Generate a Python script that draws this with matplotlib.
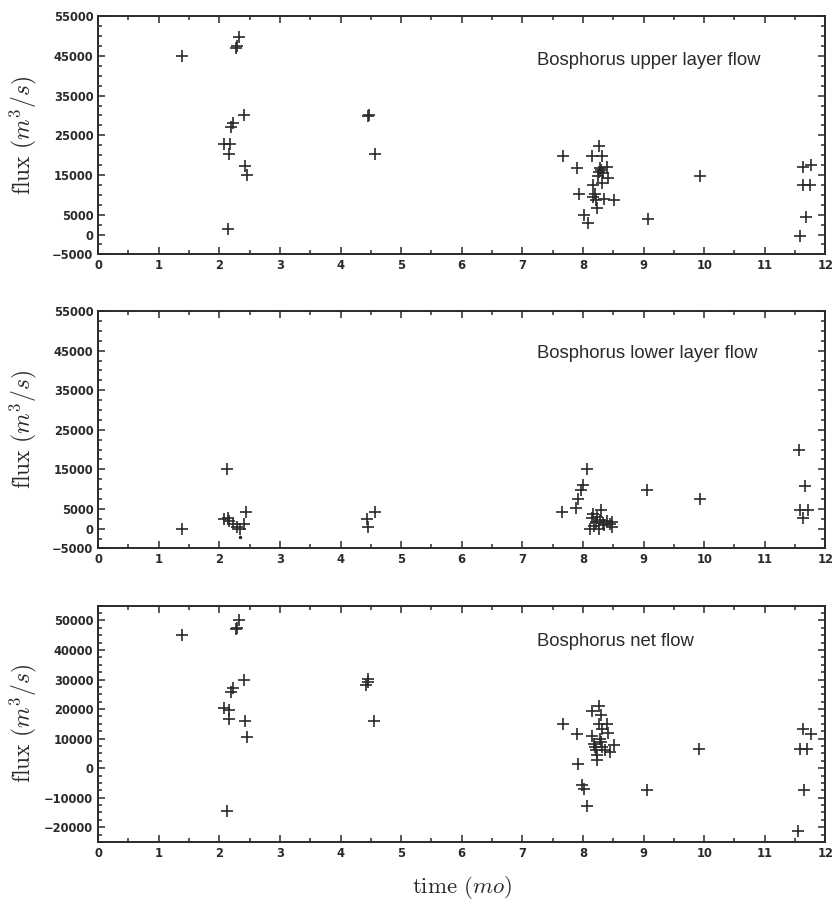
import matplotlib
matplotlib.use("Agg")
import matplotlib.pyplot as plt
from matplotlib.ticker import FixedLocator, MultipleLocator

# Bosphorus fluxes (m^3/s) against time of year (months)
upper_t = [1.39, 2.33, 2.28, 2.29, 2.40, 2.23, 2.19, 2.08, 2.18, 2.16, 2.43, 2.46, 2.15,
           4.46, 4.47, 4.57,
           7.67, 7.90, 8.27, 8.15, 8.32, 8.28, 8.40, 8.27, 8.33, 8.42, 8.32, 8.17, 7.94,
           8.20, 8.17, 8.35, 8.51, 8.24, 8.02, 8.09, 8.30, 8.25, 8.22,
           9.08, 9.93, 11.63, 11.77, 11.63, 11.75, 11.68, 11.58]
upper_q = [45000, 49700, 47000, 47500, 30000, 28000, 27000, 22700, 22700, 20200, 17200, 14900, 1300,
           29800, 30200, 20200,
           19700, 16700, 22300, 19700, 19700, 16700, 17000, 15700, 15400, 14200, 12900, 12600, 10100,
           10100, 9400, 8900, 8600, 6600, 4800, 2800, 16200, 14800, 8800,
           3800, 14700, 17000, 17400, 12600, 12600, 4400, -400]

lower_t = [1.39, 2.13, 2.08, 2.15, 2.16, 2.23, 2.29, 2.34, 2.41, 2.44,
           4.43, 4.46, 4.57,
           7.66, 7.89, 7.92, 7.97, 8.00, 8.07, 8.30, 8.17, 8.15, 8.22, 8.28, 8.33, 8.39,
           8.45, 8.48, 8.19, 8.12, 8.27, 8.35, 8.48, 8.24,
           9.06, 9.93, 11.56, 11.67, 11.58, 11.72, 11.63]
lower_q = [0, 15000, 2400, 2800, 2000, 1300, 400, 0, 1200, 4300,
           2400, 300, 4300,
           4100, 5100, 7400, 9900, 11000, 15000, 4600, 3600, 2600, 1700, 2300, 1500, 2000,
           1200, 400, 600, 0, 0, 900, 1800, 3000,
           9900, 7400, 19800, 10700, 4600, 4600, 2600]
# lone small dot below the February cluster
lower_dot_t = [2.34]
lower_dot_q = [-2200]

net_t = [1.39, 2.33, 2.28, 2.29, 2.40, 2.23, 2.19, 2.08, 2.16, 2.16, 2.43, 2.46, 2.12,
         4.45, 4.42, 4.46, 4.55,
         8.26, 8.15, 8.30, 7.67, 8.26, 8.40, 8.32, 8.42, 7.90, 8.15, 8.28, 8.18, 8.51,
         8.32, 8.21, 8.45, 8.23, 8.24, 7.92, 7.99, 8.02, 8.06, 8.30, 8.20, 8.36,
         9.06, 9.92, 11.63, 11.77, 11.58, 11.70, 11.65, 11.55]
net_q = [45000, 50000, 47000, 47500, 30000, 27000, 25900, 20300, 19800, 16800, 15800, 10700, -14400,
         29300, 28000, 30300, 15800,
         21200, 19200, 18100, 15100, 15100, 15100, 13400, 12000, 11400, 11000, 10000, 8300, 8000,
         7300, 6300, 5600, 4600, 2900, 1500, -5600, -6900, -12700, 9000, 7000, 6000,
         -7300, 6600, 13400, 11700, 6600, 6600, -7300, -21200]

x_ticks = list(range(13))
upper_yticks = [-5000, 0, 5000, 15000, 25000, 35000, 45000, 55000]
net_yticks = [-20000, -10000, 0, 10000, 20000, 30000, 40000, 50000]

panels = [
    (upper_t, upper_q, "Bosphorus upper layer flow", upper_yticks, (-5000, 55000)),
    (lower_t, lower_q, "Bosphorus lower layer flow", upper_yticks, (-5000, 55000)),
    (net_t, net_q, "Bosphorus net flow", net_yticks, (-25000, 55000)),
]
rects = [
    [0.118, 0.718, 0.874, 0.264],
    [0.118, 0.392, 0.874, 0.263],
    [0.118, 0.0665, 0.874, 0.262],
]
title_y = [0.815, 0.82, 0.847]

plt.rcParams["mathtext.fontset"] = "cm"
ink = "#2a2a2a"

fig = plt.figure(figsize=(8.32, 9.02), dpi=100)
for k, ((t, q, name, yt, ylim), rect) in enumerate(zip(panels, rects)):
    ax = fig.add_axes(rect)
    ax.plot(t, q, ls="none", marker="+", ms=8, mew=1.2, color=ink)
    if k == 1:
        ax.plot(lower_dot_t, lower_dot_q, ls="none", marker=".", ms=3, color=ink)
    ax.set_xlim(0, 12)
    ax.set_ylim(*ylim)
    ax.xaxis.set_major_locator(FixedLocator(x_ticks))
    ax.xaxis.set_minor_locator(MultipleLocator(0.5))
    ax.yaxis.set_major_locator(FixedLocator(yt))
    ax.yaxis.set_minor_locator(MultipleLocator(2500))
    ax.tick_params(which="both", direction="in", top=True, right=True,
                   color=ink, labelcolor=ink, labelsize=8.3, width=1.1)
    ax.tick_params(which="major", length=5)
    ax.tick_params(which="minor", length=3)
    for lab in ax.get_xticklabels() + ax.get_yticklabels():
        lab.set_fontweight("bold")
    for s in ax.spines.values():
        s.set_color(ink)
        s.set_linewidth(1.4)
    ax.text(0.603, title_y[k], name, transform=ax.transAxes, fontsize=13.3,
            family="Liberation Sans", color=ink, va="center", ha="left")
    ax.set_ylabel(r"$\mathrm{flux}\ (m^3/s)$", fontsize=17, color=ink)
    ax.yaxis.set_label_coords(-0.081, 0.5)
    if k == 2:
        ax.set_xlabel(r"$\mathrm{time}\ (mo)$", fontsize=16.5, color=ink, labelpad=10)

fig.savefig("out.png", dpi=100)
